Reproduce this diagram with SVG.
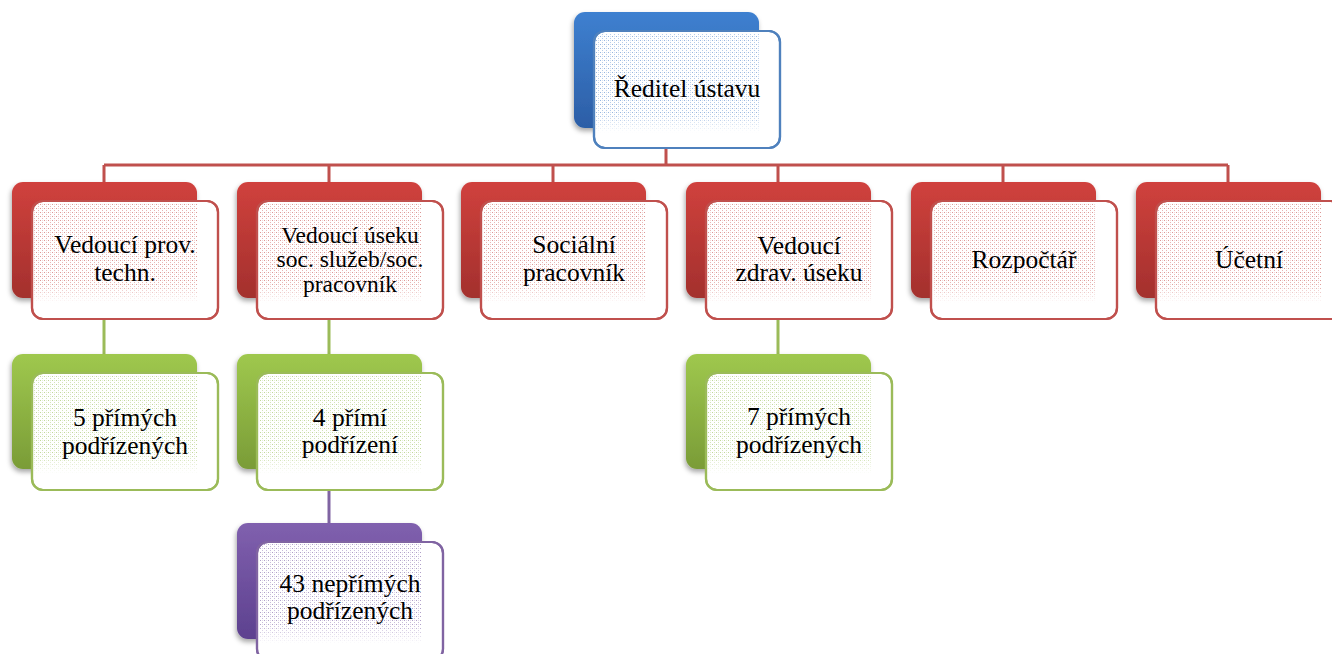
<svg xmlns="http://www.w3.org/2000/svg" width="1332" height="654" viewBox="0 0 1332 654">
  <defs>
    <style>
      text { font-family: "Liberation Serif", "DejaVu Serif", serif; }
      .lbl { font-family: "Liberation Serif", "DejaVu Serif", serif; font-size: 25.5px; fill: #000; text-anchor: middle; }
      .sm { font-size: 23.5px; }
      .front { fill: #ffffff; stroke-width: 2.2; }
      .back { filter: url(#shadow); }
      .conn { fill: none; stroke-width: 3; }
    </style>
    <filter id="shadow" x="-10%" y="-10%" width="125%" height="130%">
      <feDropShadow dx="-1" dy="3" stdDeviation="2.5" flood-color="#000" flood-opacity="0.35"/>
    </filter>
    <linearGradient id="gRed" x1="0" y1="0" x2="0" y2="1">
      <stop offset="0" stop-color="#d0413d"/>
      <stop offset="1" stop-color="#a3302d"/>
    </linearGradient>
    <linearGradient id="gBlue" x1="0" y1="0" x2="0" y2="1">
      <stop offset="0" stop-color="#3e80d0"/>
      <stop offset="1" stop-color="#2c5ea6"/>
    </linearGradient>
    <linearGradient id="gGreen" x1="0" y1="0" x2="0" y2="1">
      <stop offset="0" stop-color="#9fc84e"/>
      <stop offset="1" stop-color="#7a9c37"/>
    </linearGradient>
    <linearGradient id="gPurple" x1="0" y1="0" x2="0" y2="1">
      <stop offset="0" stop-color="#8060ae"/>
      <stop offset="1" stop-color="#5d418f"/>
    </linearGradient>
    <!-- dither texture seen through the front card, fading out at the bottom -->
    <linearGradient id="fade" x1="0" y1="0" x2="0" y2="1">
      <stop offset="0" stop-color="#fff" stop-opacity="1"/>
      <stop offset="0.8" stop-color="#fff" stop-opacity="1"/>
      <stop offset="1" stop-color="#fff" stop-opacity="0"/>
    </linearGradient>
    <mask id="fadeMask" maskContentUnits="objectBoundingBox">
      <rect x="0" y="0" width="1" height="1" fill="url(#fade)"/>
    </mask>
    <pattern id="pRed" width="4" height="4" patternUnits="userSpaceOnUse">
      <rect x="0" y="0" width="1" height="1" fill="#dd9896"/>
      <rect x="2" y="2" width="1" height="1" fill="#e9b6b4"/>
      <rect x="2" y="0" width="1" height="1" fill="#f3d6d5"/>
    </pattern>
    <pattern id="pBlue" width="4" height="4" patternUnits="userSpaceOnUse">
      <rect x="0" y="0" width="1" height="1" fill="#98b6df"/>
      <rect x="2" y="2" width="1" height="1" fill="#b6cce9"/>
      <rect x="2" y="0" width="1" height="1" fill="#d6e2f2"/>
    </pattern>
    <pattern id="pGreen" width="4" height="4" patternUnits="userSpaceOnUse">
      <rect x="0" y="0" width="1" height="1" fill="#c2d89c"/>
      <rect x="2" y="2" width="1" height="1" fill="#d4e3b8"/>
      <rect x="2" y="0" width="1" height="1" fill="#e6efd6"/>
    </pattern>
    <pattern id="pPurple" width="4" height="4" patternUnits="userSpaceOnUse">
      <rect x="0" y="0" width="1" height="1" fill="#b0a0c8"/>
      <rect x="2" y="2" width="1" height="1" fill="#c8bcda"/>
      <rect x="2" y="0" width="1" height="1" fill="#e0d9ea"/>
    </pattern>
  </defs>

  <rect width="1332" height="654" fill="#ffffff"/>

  <!-- connectors -->
  <g id="connectors">
    <path class="conn" stroke="#c0504d" d="M666 128 V165 M104 165 H1228 M104 165 V182 M329 165 V182 M553 165 V182 M778 165 V182 M1003 165 V182 M1228 165 V182"/>
    <path class="conn" stroke="#9bbb59" d="M104 298 V354 M329 298 V354 M778 298 V354"/>
    <path class="conn" stroke="#8064a2" d="M329 468 V523"/>
  </g>

  <!-- top -->
  <g id="n-reditel">
    <rect class="back" x="574" y="12" width="185" height="116" rx="11" fill="url(#gBlue)"/>
    <rect class="front" x="594" y="31" width="186" height="117" rx="11" stroke="#4f81bd"/>
    <rect x="596" y="33" width="163" height="100" fill="url(#pBlue)" mask="url(#fadeMask)"/>
    <rect x="594" y="31" width="186" height="117" rx="11" fill="none" stroke="#4f81bd" stroke-width="2.2"/>
    <text class="lbl" x="687" y="97">Ředitel ústavu</text>
  </g>

  <!-- second row -->
  <g id="n-prov">
    <rect class="back" x="12" y="182" width="185" height="116" rx="11" fill="url(#gRed)"/>
    <rect class="front" x="32" y="201" width="186" height="118" rx="11" stroke="#c0504d"/>
    <rect x="34" y="203" width="163" height="100" fill="url(#pRed)" mask="url(#fadeMask)"/>
    <rect x="32" y="201" width="186" height="118" rx="11" fill="none" stroke="#c0504d" stroke-width="2.2"/>
    <text class="lbl" x="125" y="253">Vedoucí prov.</text>
    <text class="lbl" x="125" y="281">techn.</text>
  </g>

  <g id="n-soc-sluzby">
    <rect class="back" x="237" y="182" width="185" height="116" rx="11" fill="url(#gRed)"/>
    <rect class="front" x="257" y="201" width="186" height="118" rx="11" stroke="#c0504d"/>
    <rect x="259" y="203" width="163" height="100" fill="url(#pRed)" mask="url(#fadeMask)"/>
    <rect x="257" y="201" width="186" height="118" rx="11" fill="none" stroke="#c0504d" stroke-width="2.2"/>
    <text class="lbl sm" x="350" y="243">Vedoucí úseku</text>
    <text class="lbl sm" x="350" y="267">soc. služeb/soc.</text>
    <text class="lbl sm" x="350" y="292">pracovník</text>
  </g>

  <g id="n-socialni">
    <rect class="back" x="461" y="182" width="185" height="116" rx="11" fill="url(#gRed)"/>
    <rect class="front" x="481" y="201" width="186" height="118" rx="11" stroke="#c0504d"/>
    <rect x="483" y="203" width="163" height="100" fill="url(#pRed)" mask="url(#fadeMask)"/>
    <rect x="481" y="201" width="186" height="118" rx="11" fill="none" stroke="#c0504d" stroke-width="2.2"/>
    <text class="lbl" x="574" y="253">Sociální</text>
    <text class="lbl" x="574" y="281">pracovník</text>
  </g>

  <g id="n-zdrav">
    <rect class="back" x="686" y="182" width="185" height="116" rx="11" fill="url(#gRed)"/>
    <rect class="front" x="706" y="201" width="186" height="118" rx="11" stroke="#c0504d"/>
    <rect x="708" y="203" width="163" height="100" fill="url(#pRed)" mask="url(#fadeMask)"/>
    <rect x="706" y="201" width="186" height="118" rx="11" fill="none" stroke="#c0504d" stroke-width="2.2"/>
    <text class="lbl" x="799" y="254">Vedoucí</text>
    <text class="lbl" x="799" y="281">zdrav. úseku</text>
  </g>

  <g id="n-rozpoctar">
    <rect class="back" x="911" y="182" width="185" height="116" rx="11" fill="url(#gRed)"/>
    <rect class="front" x="931" y="201" width="186" height="118" rx="11" stroke="#c0504d"/>
    <rect x="933" y="203" width="163" height="100" fill="url(#pRed)" mask="url(#fadeMask)"/>
    <rect x="931" y="201" width="186" height="118" rx="11" fill="none" stroke="#c0504d" stroke-width="2.2"/>
    <text class="lbl" x="1024" y="268">Rozpočtář</text>
  </g>

  <g id="n-ucetni">
    <rect class="back" x="1136" y="182" width="185" height="116" rx="11" fill="url(#gRed)"/>
    <rect class="front" x="1156" y="201" width="186" height="118" rx="11" stroke="#c0504d"/>
    <rect x="1158" y="203" width="163" height="100" fill="url(#pRed)" mask="url(#fadeMask)"/>
    <rect x="1156" y="201" width="186" height="118" rx="11" fill="none" stroke="#c0504d" stroke-width="2.2"/>
    <text class="lbl" x="1249" y="268">Účetní</text>
  </g>

  <!-- third row -->
  <g id="n-prov-podr">
    <rect class="back" x="12" y="354" width="185" height="115" rx="11" fill="url(#gGreen)"/>
    <rect class="front" x="32" y="373" width="186" height="117" rx="11" stroke="#9bbb59"/>
    <rect x="34" y="375" width="163" height="99" fill="url(#pGreen)" mask="url(#fadeMask)"/>
    <rect x="32" y="373" width="186" height="117" rx="11" fill="none" stroke="#9bbb59" stroke-width="2.2"/>
    <text class="lbl" x="125" y="426">5 přímých</text>
    <text class="lbl" x="125" y="454">podřízených</text>
  </g>

  <g id="n-soc-podr">
    <rect class="back" x="237" y="354" width="185" height="115" rx="11" fill="url(#gGreen)"/>
    <rect class="front" x="257" y="373" width="186" height="117" rx="11" stroke="#9bbb59"/>
    <rect x="259" y="375" width="163" height="99" fill="url(#pGreen)" mask="url(#fadeMask)"/>
    <rect x="257" y="373" width="186" height="117" rx="11" fill="none" stroke="#9bbb59" stroke-width="2.2"/>
    <text class="lbl" x="350" y="426">4 přímí</text>
    <text class="lbl" x="350" y="453">podřízení</text>
  </g>

  <g id="n-zdrav-podr">
    <rect class="back" x="686" y="354" width="185" height="115" rx="11" fill="url(#gGreen)"/>
    <rect class="front" x="706" y="373" width="186" height="117" rx="11" stroke="#9bbb59"/>
    <rect x="708" y="375" width="163" height="99" fill="url(#pGreen)" mask="url(#fadeMask)"/>
    <rect x="706" y="373" width="186" height="117" rx="11" fill="none" stroke="#9bbb59" stroke-width="2.2"/>
    <text class="lbl" x="799" y="425">7 přímých</text>
    <text class="lbl" x="799" y="453">podřízených</text>
  </g>

  <!-- fourth row -->
  <g id="n-neprimi">
    <rect class="back" x="237" y="523" width="185" height="116" rx="11" fill="url(#gPurple)"/>
    <rect class="front" x="257" y="542" width="186" height="118" rx="11" stroke="#8064a2"/>
    <rect x="259" y="544" width="163" height="100" fill="url(#pPurple)" mask="url(#fadeMask)"/>
    <rect x="257" y="542" width="186" height="118" rx="11" fill="none" stroke="#8064a2" stroke-width="2.2"/>
    <text class="lbl" x="350" y="592">43 nepřímých</text>
    <text class="lbl" x="350" y="619">podřízených</text>
  </g>
</svg>
